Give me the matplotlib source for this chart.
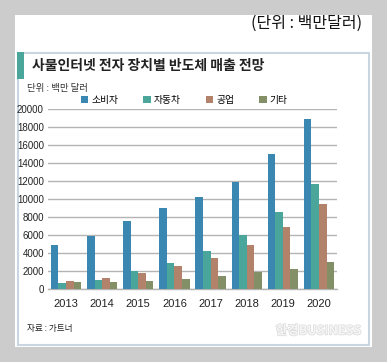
import matplotlib
matplotlib.use("Agg")
import matplotlib.pyplot as plt
import matplotlib.patches as mpatches
import matplotlib.patheffects as pe
from matplotlib import font_manager
import numpy as np

plt.rcParams['font.family'] = ['Noto Sans CJK KR', 'DejaVu Sans']

years = ['2013', '2014', '2015', '2016', '2017', '2018', '2019', '2020']
series_names = ['소비자', '자동차', '공업', '기타']
consumer = [4900, 5900, 7600, 9000, 10200, 11900, 15000, 18850]
auto = [630, 1000, 2000, 2850, 4200, 6030, 8550, 11700]
industry = [890, 1190, 1740, 2550, 3480, 4850, 6930, 9440]
other = [780, 780, 930, 1150, 1440, 1890, 2220, 3000]
yticks = [0, 2000, 4000, 6000, 8000, 10000, 12000, 14000, 16000, 18000, 20000]
colors = ['#3a87b2', '#4aa69b', '#b2826a', '#838f66']

names = {f.name for f in font_manager.fontManager.ttflist}
num_family = ['Liberation Sans Narrow'] if 'Liberation Sans Narrow' in names else ['Liberation Sans']

W, H = 387, 362
fig = plt.figure(figsize=(W / 100, H / 100), dpi=100)
fig.patch.set_facecolor('#cccccc')

def fx(x):
    return x / W

def fy(y):
    return 1 - y / H

# white panel
fig.patches.append(mpatches.Rectangle((fx(15), fy(347)), 357 / W, 332 / H,
                                      transform=fig.transFigure, facecolor='white',
                                      edgecolor='none', zorder=0))
# inner framed box
fig.patches.append(mpatches.Rectangle((fx(17.5), fy(344.5)), 351 / W, 292 / H,
                                      transform=fig.transFigure, facecolor='white',
                                      edgecolor='#c9d5e0', linewidth=1.5, zorder=0.5))
# title accent
fig.patches.append(mpatches.Rectangle((fx(17), fy(79)), 7 / W, 27 / H,
                                      transform=fig.transFigure, facecolor='#4aa69b',
                                      edgecolor='none', zorder=1))

fig.text(fx(362), fy(23), '(단위 : 백만달러)', fontsize=11.5, ha='right', va='center',
         color='#111111', fontweight='light')
fig.text(fx(32), fy(66), '사물인터넷 전자 장치별 반도체 매출 전망', fontsize=10,
         fontweight='bold', ha='left', va='center', color='#222222')
fig.text(fx(27), fy(88), '단위 : 백만 달러', fontsize=6.8, ha='left', va='center', color='#333333')
fig.text(fx(27), fy(328), '자료 : 가트너', fontsize=6.2, ha='left', va='center', color='#222222')
fig.text(fx(361), fy(331), '한경BUSINESS', fontsize=9, ha='right', va='center',
         color='#f6f6f6', fontweight='bold',
         path_effects=[pe.withStroke(linewidth=1.0, foreground='#dadada')])

ax = fig.add_axes([fx(48), fy(289), 289 / W, 180 / H])
ax.set_zorder(5)
ax.set_facecolor('none')
x = np.arange(len(years))
w = 0.21
data = [consumer, auto, industry, other]
for i, (vals, name, c) in enumerate(zip(data, series_names, colors)):
    ax.bar(x + (i - 1.5) * w, vals, width=w, color=c, label=name, zorder=3,
           edgecolor='none')

ax.set_xlim(-0.5, len(years) - 0.5)
ax.set_ylim(0, 20000)
ax.set_yticks(yticks)
ax.set_yticklabels([str(v) for v in yticks], fontsize=7, family=num_family,
                   color='#222222')
ax.set_xticks(x)
ax.set_xticklabels(years, fontsize=8, family=num_family, color='#222222')
ax.tick_params(axis='both', length=0, pad=3)
ax.tick_params(axis='x', pad=7)
ax.grid(axis='y', color='#b4b4b4', linewidth=1.0, zorder=0)
ax.set_axisbelow(True)
for s in ['top', 'right', 'left']:
    ax.spines[s].set_visible(False)
ax.spines['bottom'].set_color('#b4b4b4')
ax.spines['bottom'].set_linewidth(1.0)

leg = fig.legend(loc='center left', bbox_to_anchor=(fx(81), fy(100)), ncol=4, frameon=False,
                 fontsize=7, handlelength=0.75, handleheight=0.75, handletextpad=0.3,
                 columnspacing=2.6, borderaxespad=0, borderpad=0)
leg.set_zorder(6)

fig.savefig('out.png', dpi=100, facecolor=fig.get_facecolor())
